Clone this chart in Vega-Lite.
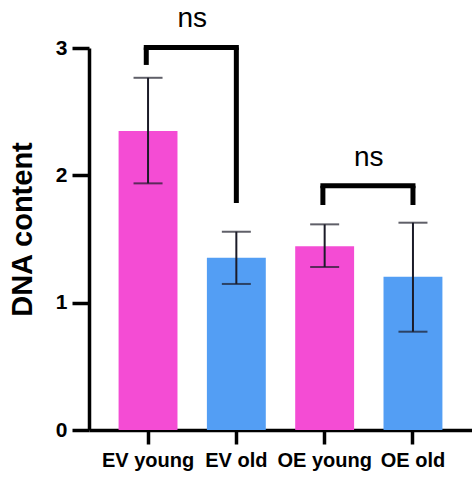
{
  "$schema": "https://vega.github.io/schema/vega-lite/v6.json",
  "width": 383,
  "height": 382,
  "autosize": "none",
  "padding": {"left": 89, "top": 48, "right": 0, "bottom": 47},
  "background": "white",
  "config": {
    "view": {"stroke": null},
    "font": "Liberation Sans",
    "axis": {
      "grid": false,
      "labelFont": "Liberation Sans",
      "labelFontWeight": "bold",
      "labelColor": "black",
      "tickWidth": 3.5,
      "tickColor": "black",
      "domainWidth": 3.5,
      "domainColor": "black",
      "titleFont": "Liberation Sans",
      "titleFontWeight": "bold",
      "titleColor": "black"
    },
    "axisX": {
      "labelAngle": 0,
      "labelFontSize": 20,
      "labelPadding": 6,
      "tickSize": 14
    },
    "axisY": {
      "labelFontSize": 21,
      "labelPadding": 5,
      "tickSize": 17,
      "titleFontSize": 29,
      "titleAngle": -90,
      "titleAlign": "center",
      "titleBaseline": "middle",
      "titleX": -67,
      "titleY": 181
    }
  },
  "datasets": {
    "groups": [
      {"group": "EV young", "kind": "young", "mean": 2.348, "lo": 1.937, "hi": 2.766},
      {"group": "EV old", "kind": "old", "mean": 1.353, "lo": 1.147, "hi": 1.557},
      {"group": "OE young", "kind": "young", "mean": 1.443, "lo": 1.28, "hi": 1.615},
      {"group": "OE old", "kind": "old", "mean": 1.204, "lo": 0.772, "hi": 1.628}
    ],
    "brackets": [
      {"g1": "EV young", "g2": "EV old", "top": 3.004, "left_end": 2.867, "right_end": 1.783, "label": "ns", "label_y": 3.228},
      {"g1": "OE young", "g2": "OE old", "top": 1.918, "left_end": 1.767, "right_end": 1.767, "label": "ns", "label_y": 2.136}
    ]
  },
  "layer": [
    {
      "data": {"name": "groups"},
      "mark": {"type": "bar"},
      "encoding": {
        "x": {
          "field": "group",
          "type": "nominal",
          "scale": {"domain": ["EV young", "EV old", "OE young", "OE old"], "paddingInner": 0.333, "paddingOuter": 0.335},
          "axis": {"title": null}
        },
        "y": {
          "field": "mean",
          "type": "quantitative",
          "scale": {"domain": [0, 3], "nice": false},
          "axis": {"title": "DNA content", "values": [0, 1, 2, 3], "format": "d"}
        },
        "color": {
          "field": "kind",
          "type": "nominal",
          "scale": {"domain": ["young", "old"], "range": ["#F44CD4", "#539EF4"]},
          "legend": null
        }
      }
    },
    {
      "data": {"name": "groups"},
      "mark": {"type": "rule", "color": "#1b1b28", "strokeWidth": 2},
      "encoding": {
        "x": {"field": "group", "type": "nominal"},
        "y": {"field": "lo", "type": "quantitative"},
        "y2": {"field": "hi"}
      }
    },
    {
      "data": {"name": "groups"},
      "mark": {"type": "tick", "color": "#1b1b28", "thickness": 2, "size": 29, "orient": "horizontal"},
      "encoding": {
        "x": {"field": "group", "type": "nominal"},
        "y": {"field": "lo", "type": "quantitative"}
      }
    },
    {
      "data": {"name": "groups"},
      "mark": {"type": "tick", "color": "#1b1b28", "thickness": 2, "size": 29, "orient": "horizontal"},
      "encoding": {
        "x": {"field": "group", "type": "nominal"},
        "y": {"field": "hi", "type": "quantitative"}
      }
    },
    {
      "data": {"name": "brackets"},
      "mark": {"type": "rule", "color": "black", "strokeWidth": 5, "strokeCap": "square"},
      "encoding": {
        "x": {"field": "g1", "type": "nominal", "bandPosition": 0.47},
        "x2": {"field": "g2", "bandPosition": 0.5},
        "y": {"field": "top", "type": "quantitative"}
      }
    },
    {
      "data": {"name": "brackets"},
      "mark": {"type": "rule", "color": "black", "strokeWidth": 5},
      "encoding": {
        "x": {"field": "g1", "type": "nominal", "bandPosition": 0.47},
        "y": {"field": "left_end", "type": "quantitative"},
        "y2": {"field": "top"}
      }
    },
    {
      "data": {"name": "brackets"},
      "mark": {"type": "rule", "color": "black", "strokeWidth": 5},
      "encoding": {
        "x": {"field": "g2", "type": "nominal", "bandPosition": 0.5},
        "y": {"field": "right_end", "type": "quantitative"},
        "y2": {"field": "top"}
      }
    },
    {
      "data": {"name": "brackets"},
      "mark": {"type": "text", "font": "Liberation Sans", "fontSize": 28, "color": "black", "baseline": "middle", "align": "center"},
      "encoding": {
        "x": {"field": "g1", "type": "nominal", "bandPosition": 1.25},
        "y": {"field": "label_y", "type": "quantitative"},
        "text": {"field": "label"}
      }
    }
  ]
}
